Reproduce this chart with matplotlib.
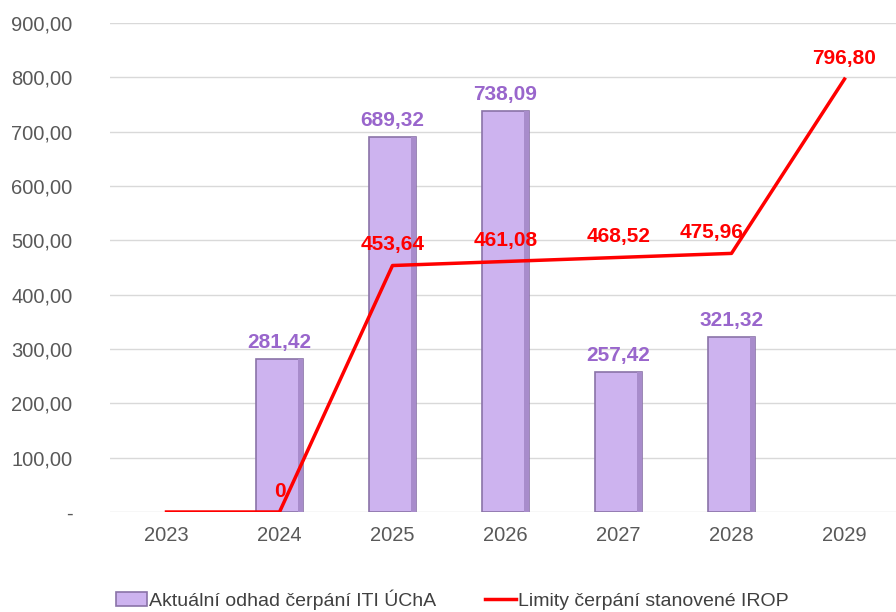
import matplotlib
matplotlib.use("Agg")
import matplotlib.pyplot as plt
from matplotlib.ticker import FixedLocator, FuncFormatter

years = ["2023", "2024", "2025", "2026", "2027", "2028", "2029"]
odhad = [None, 281.42, 689.32, 738.09, 257.42, 321.32, None]
limity = [0, 0, 453.64, 461.08, 468.52, 475.96, 796.80]
limity_labels = [None, "0", "453,64", "461,08", "468,52", "475,96", "796,80"]
yticks = [0, 100, 200, 300, 400, 500, 600, 700, 800, 900]

plt.rcParams['font.family'] = ['Liberation Sans', 'DejaVu Sans']

fig = plt.figure(figsize=(8.96, 6.12), dpi=100)
ax = fig.add_axes([110/896, 100/612, 791/896, 489/612])

x = list(range(len(years)))
bar_x = [i for i, v in zip(x, odhad) if v is not None]
bar_v = [v for v in odhad if v is not None]
bw = 0.42

bars = ax.bar(bar_x, bar_v, width=bw, color='#CDB3EF', edgecolor='#8A73A8',
              linewidth=1.2, zorder=2, label='Aktuální odhad čerpání ITI ÚChA')
# bevel shading on right side of bars
ax.bar([b + bw/2 - 0.025 for b in bar_x], bar_v, width=0.05, color='#A88CCB',
       linewidth=0, zorder=2.1)
for bx, bv in zip(bar_x, bar_v):
    ax.annotate(f"{bv:.2f}".replace('.', ','), (bx, bv), xytext=(0, 12),
                textcoords='offset points', ha='center', va='center',
                color='#9966CC', fontsize=15, fontweight='bold', zorder=4)

line, = ax.plot(x, limity, color='#FF0000', linewidth=2.5, zorder=3,
                label='Limity čerpání stanovené IROP')
for i, (lx, lv, lab) in enumerate(zip(x, limity, limity_labels)):
    if lab is None:
        continue
    dx = -14 if i == 5 else 0
    ax.annotate(lab, (lx, lv), xytext=(dx, 15), textcoords='offset points',
                ha='center', va='center', color='#FF0000', fontsize=15,
                fontweight='bold', zorder=4)

ax.set_xlim(-0.5, 6.5)
ax.set_ylim(0, 900)
ax.yaxis.set_major_locator(FixedLocator(yticks))
ax.yaxis.set_major_formatter(FuncFormatter(
    lambda v, p: "-" if v == 0 else f"{v:.2f}".replace('.', ',')))
ax.set_xticks(x)
ax.set_xticklabels(years)
ax.tick_params(axis='both', length=0, labelsize=14.5, colors='#595959')
ax.tick_params(axis='y', pad=27)
ax.tick_params(axis='x', pad=10)
ax.grid(axis='y', color='#D9D9D9', linewidth=1, zorder=0)
ax.set_axisbelow(True)
for s in ax.spines.values():
    s.set_visible(False)

fig.legend(handles=[bars, line], loc='lower center', bbox_to_anchor=(0.505, -0.025),
           ncol=2, frameon=False, fontsize=14, handlelength=1.6, handletextpad=0.1,
           columnspacing=2.5, labelcolor='#404040')

fig.savefig("out.png", dpi=100, facecolor='white')
